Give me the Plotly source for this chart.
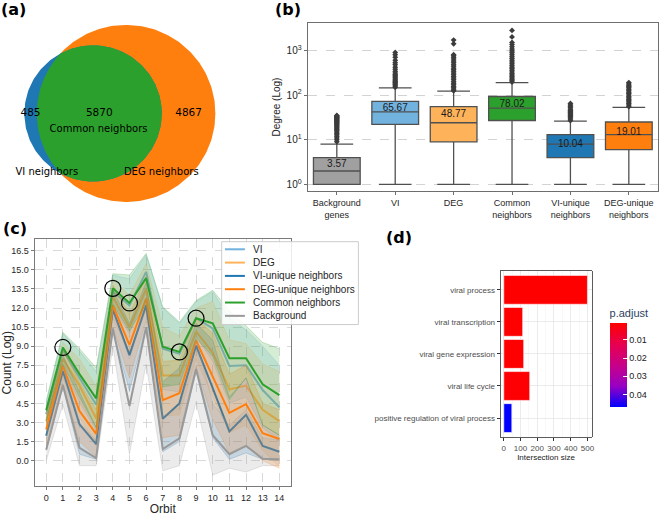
import numpy as np
import plotly.graph_objects as go

W, H = 668, 516

# ---------------- data ----------------
# (a) Venn counts
vi_only = 485
common_n = 5870
deg_only = 4867
venn_set_labels = ["VI neighbors", "DEG neighbors"]
venn_center_label = "Common neighbors"

# (b) degree box plot (summary stats)
box_labels = ["Background<br>genes", "VI", "DEG", "Common<br>neighbors",
              "VI-unique<br>neighbors", "DEG-unique<br>neighbors"]
box_q1 = [1, 22, 9, 27, 4, 6]
box_med = [2, 42, 24, 51, 8, 13]
box_q3 = [4, 72, 55, 93, 13, 25]
box_lo = [1, 1, 1, 1, 1, 1]
box_hi = [8, 145, 122, 190, 26, 53]
box_mean = [3.57, 65.67, 48.77, 78.02, 10.04, 19.01]
out_background = [9, 10, 11, 12, 13, 14, 15, 16, 17, 18, 19, 20, 21, 22, 23, 24, 25,
                  26, 27, 28, 29, 30, 31, 32, 33, 34, 35]
out_vi = [150, 160, 170, 180, 190, 200, 210, 225, 240, 255, 270, 290, 310, 340, 380,
          420, 480, 530, 600, 700, 800, 900]
out_deg = [125, 135, 145, 155, 170, 185, 200, 220, 240, 260, 285, 310, 340, 370, 400,
           440, 480, 530, 580, 640, 700, 760, 800, 1400, 1700]
out_common = [195, 210, 225, 240, 260, 280, 300, 330, 360, 390, 420, 460, 500, 550, 600,
              660, 720, 800, 880, 970, 1070, 1200, 1350, 1500, 2000, 2800]
out_vi_unique = [27, 29, 31, 33, 35, 37, 39, 41, 43, 45, 48, 52, 56, 60, 65]
out_deg_unique = [55, 60, 65, 70, 75, 80, 86, 92, 100, 108, 116, 125, 135, 145, 155,
                  165, 178, 190]
box_outliers = [out_background, out_vi, out_deg, out_common, out_vi_unique, out_deg_unique]

# (c) orbit counts
orbits = list(range(15))
vi_mean = [3.65, 8.7, 6.5, 4.4, 13.3, 12.2, 14.85, 8.8, 8.4, 11.2, 10.4, 7.45, 7.5, 5.55, 4.2]
vi_lo = [2.8, 7.4, 4.6, 2.4, 12.0, 10.0, 13.2, 5.6, 5.4, 9.8, 7.8, 4.5, 5.0, 2.6, 1.5]
vi_hi = [4.5, 10.0, 8.6, 7.0, 14.6, 14.3, 16.2, 12.0, 10.8, 12.5, 13.3, 11.2, 10.3, 9.0, 7.5]
deg_mean = [3.1, 8.0, 5.9, 3.3, 12.9, 10.5, 13.5, 6.7, 6.7, 10.15, 8.5, 5.6, 5.9, 4.0, 3.1]
deg_lo = [2.0, 6.5, 3.4, 1.2, 11.2, 8.5, 11.8, 3.5, 3.6, 8.0, 5.0, 2.2, 2.8, 0.8, -0.5]
deg_hi = [4.1, 9.3, 8.0, 5.8, 14.3, 13.0, 15.5, 10.5, 9.8, 12.0, 12.5, 9.5, 9.2, 7.6, 7.0]
viu_mean = [1.95, 7.05, 2.85, 1.3, 11.9, 8.3, 12.2, 3.3, 4.5, 9.05, 5.7, 2.3, 3.6, 1.15, 0.7]
viu_lo = [0.8, 5.8, 0.5, 0.1, 10.2, 5.5, 10.5, 0.7, 1.5, 7.0, 1.8, 0.1, 0.6, 0.1, 0.0]
viu_hi = [3.2, 8.3, 5.4, 2.6, 13.4, 10.8, 14.0, 6.2, 7.3, 10.8, 9.5, 5.0, 6.5, 2.8, 2.0]
degu_mean = [2.45, 7.45, 3.9, 2.1, 12.2, 9.1, 12.75, 4.75, 5.3, 9.45, 6.6, 3.75, 4.45, 2.15, 1.7]
degu_lo = [1.2, 6.0, 1.5, 0.3, 10.5, 6.5, 11.0, 1.8, 2.0, 7.4, 3.2, 0.6, 1.2, 0.0, -0.6]
degu_hi = [3.6, 8.8, 6.2, 4.0, 13.8, 11.5, 14.5, 7.8, 7.9, 11.2, 10.0, 6.8, 7.5, 4.5, 4.0]
com_mean = [3.95, 8.9, 6.8, 4.9, 13.55, 12.4, 14.35, 8.95, 8.55, 11.2, 10.8, 8.05, 8.05, 6.0, 5.15]
com_lo = [3.0, 7.6, 5.0, 2.6, 12.3, 10.2, 12.3, 5.8, 6.0, 9.6, 8.2, 4.8, 6.5, 2.8, 2.0]
com_hi = [4.7, 10.1, 8.8, 7.3, 14.7, 14.6, 16.3, 12.1, 10.9, 12.6, 13.4, 11.8, 10.6, 9.3, 8.8]
bg_mean = [0.85, 5.95, 1.0, 0.2, 10.4, 4.3, 10.5, 0.9, 1.75, 7.2, 2.0, 0.5, 1.15, 0.15, 0.1]
bg_lo = [0.0, 4.4, -0.4, -0.4, 9.0, 0.5, 7.6, -0.8, -0.4, 4.6, -1.15, -0.6, -0.9, -0.4, -0.4]
bg_hi = [1.8, 7.5, 3.0, 1.6, 12.0, 8.0, 12.8, 3.5, 4.2, 9.6, 4.5, 2.8, 4.0, 1.8, 1.6]
highlight_orbits = [1, 4, 5, 8, 9]
y_ticks_c = [0.0, 1.5, 3.0, 4.5, 6.0, 7.5, 9.0, 10.5, 12.0, 13.5, 15.0, 16.5]

# (d) GO enrichment
go_terms = ["viral process", "viral transcription", "viral gene expression",
            "viral life cycle", "positive regulation of viral process"]
go_counts = [500, 113, 119, 155, 48]
go_padjust = [0.0007, 0.0008, 0.0009, 0.0012, 0.047]
cbar_ticks = [0.01, 0.02, 0.03, 0.04]

# ---------------- styles ----------------
C_BLUE = "#1f77b4"
C_ORANGE = "#ff7f0e"
C_GREEN = "#2ca02c"
C_LBLUE = "#72b2de"
C_LORANGE = "#feb35a"
C_GREY = "#a0a0a0"
SANS = "Liberation Sans, Arial, sans-serif"
DEJ = "DejaVu Sans, sans-serif"


def rgba(hexc, a):
    h = hexc.lstrip("#")
    return "rgba(%d,%d,%d,%.3f)" % (int(h[0:2], 16), int(h[2:4], 16), int(h[4:6], 16), a)


fig = go.Figure()

# ---------------- (a) Venn ----------------
k = 0.866  # px per sqrt(count)
r1 = k * np.sqrt(vi_only + common_n)
r2 = k * np.sqrt(deg_only + common_n)
target = np.pi * k * k * common_n


def lens(d):
    a1 = np.arccos((d * d + r1 * r1 - r2 * r2) / (2 * d * r1))
    a2 = np.arccos((d * d + r2 * r2 - r1 * r1) / (2 * d * r2))
    tri = 0.5 * np.sqrt((-d + r1 + r2) * (d + r1 - r2) * (d - r1 + r2) * (d + r1 + r2))
    return r1 * r1 * a1 + r2 * r2 * a2 - tri


lo_d, hi_d = abs(r2 - r1) + 1e-6, r1 + r2 - 1e-6
for _ in range(80):
    mid = 0.5 * (lo_d + hi_d)
    if lens(mid) > target:
        lo_d = mid
    else:
        hi_d = mid
d = 0.5 * (lo_d + hi_d)
c1 = (93.5, 115.0)
c2 = (93.5 + d, 115.0)


def circle_pts(c, r, t0=0, t1=2 * np.pi, n=240):
    t = np.linspace(t0, t1, n)
    return c[0] + r * np.cos(t), c[1] + r * np.sin(t)


xo, yo = circle_pts(c2, r2)
fig.add_trace(go.Scatter(x=xo, y=yo, fill="toself", fillcolor=C_ORANGE, line=dict(width=0),
                         mode="lines", hoverinfo="skip", showlegend=False, xaxis="x", yaxis="y"))
xb, yb = circle_pts(c1, r1)
fig.add_trace(go.Scatter(x=xb, y=yb, fill="toself", fillcolor=C_BLUE, line=dict(width=0),
                         mode="lines", hoverinfo="skip", showlegend=False, xaxis="x", yaxis="y"))
a = (d * d + r1 * r1 - r2 * r2) / (2 * d)
h = np.sqrt(r1 * r1 - a * a)
al1 = np.arctan2(h, a)
al2 = np.arctan2(h, a - d)
x1, y1 = circle_pts(c1, r1, -al1, al1)
x2, y2 = circle_pts(c2, r2, al2, 2 * np.pi - al2)
fig.add_trace(go.Scatter(x=np.concatenate([x1, x2]), y=np.concatenate([y1, y2]), fill="toself",
                         fillcolor=C_GREEN, line=dict(width=0), mode="lines", hoverinfo="skip",
                         showlegend=False, xaxis="x", yaxis="y"))
left_vi, left_deg = c1[0] - r1, c2[0] - r2
right_vi, right_deg = c1[0] + r1, c2[0] + r2
fig.add_trace(go.Scatter(
    x=[(left_vi + left_deg) / 2, (left_deg + right_vi) / 2, (right_vi + right_deg) / 2],
    y=[c1[1]] * 3, text=[str(vi_only), str(common_n), str(deg_only)], mode="text",
    textfont=dict(family=DEJ, size=10.5, color="black"), hoverinfo="skip", showlegend=False,
    xaxis="x", yaxis="y"))
fig.add_trace(go.Scatter(
    x=[99, 47, 162], y=[131, 175, 175],
    text=[venn_center_label, venn_set_labels[0], venn_set_labels[1]], mode="text",
    textfont=dict(family=DEJ, size=10, color="black"), hoverinfo="skip", showlegend=False,
    xaxis="x", yaxis="y"))

# ---------------- (b) box plot ----------------
box_colors = [C_GREY, C_LBLUE, C_LORANGE, C_GREEN, C_BLUE, C_ORANGE]
for i in range(len(box_labels)):
    fig.add_trace(go.Box(x=[i], q1=[box_q1[i]], median=[box_med[i]], q3=[box_q3[i]],
                         lowerfence=[box_lo[i]], upperfence=[box_hi[i]], width=0.8,
                         whiskerwidth=0.7, fillcolor=box_colors[i],
                         line=dict(color="#505050", width=1.3), boxpoints=False,
                         hoverinfo="skip", showlegend=False, xaxis="x2", yaxis="y2"))
    fig.add_trace(go.Scatter(x=[i] * len(box_outliers[i]), y=box_outliers[i], mode="markers",
                             marker=dict(symbol="diamond", size=4.5, color="#3c3c3c"),
                             hoverinfo="skip", showlegend=False, xaxis="x2", yaxis="y2"))
fig.add_trace(go.Scatter(x=list(range(len(box_mean))), y=box_mean, mode="text",
                         text=["%.2f" % m for m in box_mean], textposition="bottom center",
                         textfont=dict(family=SANS, size=10, color="#1a1a1a"),
                         hoverinfo="skip", showlegend=False, xaxis="x2", yaxis="y2"))

# ---------------- (c) orbit lines ----------------
series = [
    ("VI", C_LBLUE, vi_mean, vi_lo, vi_hi),
    ("DEG", C_LORANGE, deg_mean, deg_lo, deg_hi),
    ("VI-unique neighbors", C_BLUE, viu_mean, viu_lo, viu_hi),
    ("DEG-unique neighbors", C_ORANGE, degu_mean, degu_lo, degu_hi),
    ("Common neighbors", C_GREEN, com_mean, com_lo, com_hi),
    ("Background", "#999999", bg_mean, bg_lo, bg_hi),
]
for name, col, m, lo, hi in series:
    fig.add_trace(go.Scatter(x=orbits, y=lo, mode="lines", line=dict(color=rgba(col, 0.3), width=0.8),
                             hoverinfo="skip", showlegend=False, xaxis="x3", yaxis="y3"))
    fig.add_trace(go.Scatter(x=orbits, y=hi, mode="lines", fill="tonexty", fillcolor=rgba(col, 0.2),
                             line=dict(color=rgba(col, 0.3), width=0.8),
                             hoverinfo="skip", showlegend=False, xaxis="x3", yaxis="y3"))
    fig.add_trace(go.Scatter(x=orbits, y=m, mode="lines", name=name, line=dict(color=col, width=2),
                             showlegend=False, xaxis="x3", yaxis="y3"))
fig.add_trace(go.Scatter(x=highlight_orbits, y=[com_mean[i] for i in highlight_orbits], mode="markers",
                         marker=dict(symbol="circle-open", size=16, color="black", line=dict(width=1.2)),
                         hoverinfo="skip", showlegend=False, xaxis="x3", yaxis="y3"))

# ---------------- (d) GO bars ----------------
fig.add_trace(go.Bar(
    x=go_counts, y=go_terms, orientation="h", width=0.9, xaxis="x4", yaxis="y4",
    marker=dict(color=[-p for p in go_padjust],
                colorscale=[[0, "#0000FF"], [0.25, "#9900C2"], [0.5, "#C80088"],
                            [0.75, "#E7004F"], [1, "#FF0000"]],
                cmin=-max(go_padjust), cmax=-min(go_padjust),
                line=dict(color="white", width=0.6),
                colorbar=dict(x=612.3 / W, xanchor="left", xpad=0, y=1 - 361.5 / H, yanchor="middle",
                              ypad=0, len=101, lenmode="pixels", thickness=17, outlinewidth=0,
                              title=dict(text="p.adjust", side="top", font=dict(family=SANS, size=11)),
                              tickvals=[-t for t in cbar_ticks], ticktext=["%.2f" % t for t in cbar_ticks],
                              ticks="inside", tickcolor="white", ticklen=4,
                              tickfont=dict(family=SANS, size=9, color="#1a1a1a"))),
    hoverinfo="skip", showlegend=False))

# ---------------- layout ----------------
def dom_x(a, b):
    return [a / W, b / W]


def dom_y(top, bottom):
    return [1 - bottom / H, 1 - top / H]


axis_font = dict(family=SANS, size=9, color="#262626")

layout = dict(
    width=W, height=H, margin=dict(l=0, r=0, t=0, b=0),
    paper_bgcolor="white", plot_bgcolor="white", showlegend=False,
    xaxis=dict(domain=dom_x(0, 250), range=[0, 250], visible=False, fixedrange=True),
    yaxis=dict(domain=dom_y(0, 210), range=[210, 0], visible=False, fixedrange=True),
    xaxis2=dict(domain=dom_x(309, 661), anchor="y2", range=[-0.5, 5.5], tickmode="array",
                tickvals=list(range(len(box_labels))), ticktext=box_labels, showgrid=False,
                zeroline=False, showline=True, mirror=True, linecolor="#6e6e6e", linewidth=1,
                ticks="outside", ticklen=3, tickcolor="#6e6e6e", tickfont=axis_font),
    yaxis2=dict(domain=dom_y(23, 194), anchor="x2", type="log", range=[-0.155, 3.62],
                tickmode="array", tickvals=[1, 10, 100, 1000],
                ticktext=["10<sup>0</sup>", "10<sup>1</sup>", "10<sup>2</sup>", "10<sup>3</sup>"],
                showgrid=True, gridcolor="#c8c8c8", griddash="dash", gridwidth=0.8, zeroline=False,
                showline=True, mirror=True, linecolor="#6e6e6e", linewidth=1,
                ticks="outside", ticklen=3, tickcolor="#6e6e6e",
                tickfont=dict(family=SANS, size=10, color="#262626"),
                title=dict(text="Degree (Log)", font=dict(family=SANS, size=10, color="#262626"),
                           standoff=4)),
    xaxis3=dict(domain=dom_x(34.7, 292.3), anchor="y3", range=[-0.7, 14.7], tickmode="array",
                tickvals=orbits, showgrid=True, gridcolor="#cfcfcf", griddash="dash", gridwidth=0.8,
                zeroline=False, showline=True, mirror=True, linecolor="#7a7a7a", linewidth=1,
                ticks="outside", ticklen=3, tickcolor="#7a7a7a",
                tickfont=dict(family=SANS, size=9, color="#262626"),
                title=dict(text="Orbit", font=dict(family=SANS, size=12, color="#262626"), standoff=5)),
    yaxis3=dict(domain=dom_y(242.7, 492.7), anchor="x3", range=[-2.0, 17.4], tickmode="array",
                tickvals=y_ticks_c, ticktext=["%.1f" % t for t in y_ticks_c],
                showgrid=True, gridcolor="#cfcfcf", griddash="dash", gridwidth=0.8,
                zeroline=False, showline=True, mirror=True, linecolor="#7a7a7a", linewidth=1,
                ticks="outside", ticklen=3, tickcolor="#7a7a7a",
                tickfont=dict(family=SANS, size=9, color="#262626"),
                title=dict(text="Count (Log)", font=dict(family=SANS, size=12, color="#262626"), standoff=3)),
    xaxis4=dict(domain=dom_x(502.7, 594.3), anchor="y4", range=[-20, 525], tickmode="array",
                tickvals=[0, 100, 200, 300, 400, 500], showgrid=True, gridcolor="#e6e6e6", gridwidth=0.8,
                minor=dict(tickvals=[50, 150, 250, 350, 450], showgrid=True, gridcolor="#f3f3f3", gridwidth=0.6),
                zeroline=False, showline=True, mirror=True, linecolor="#333333", linewidth=0.8,
                ticks="outside", ticklen=3, tickcolor="#333333",
                tickfont=dict(family=SANS, size=8, color="#4d4d4d"),
                title=dict(text="Intersection size", font=dict(family=SANS, size=8, color="#1a1a1a"), standoff=2)),
    yaxis4=dict(domain=dom_y(274.3, 443.3), anchor="x4", type="category", categoryorder="array",
                categoryarray=go_terms, range=[len(go_terms) - 0.4, -0.6], showgrid=True,
                gridcolor="#e6e6e6", gridwidth=0.8, zeroline=False, showline=True, mirror=True,
                linecolor="#333333", linewidth=0.8, ticks="outside", ticklen=3, tickcolor="#333333",
                tickfont=dict(family=SANS, size=8, color="#4d4d4d")),
)
fig.update_layout(**layout)

# panel labels
for lab, x, y in [("(a)", 14, 10), ("(b)", 289, 10), ("(c)", 15, 232), ("(d)", 401, 241)]:
    fig.add_annotation(text="<b>%s</b>" % lab, x=x / W, y=1 - y / H, xref="paper", yref="paper",
                       showarrow=False, xanchor="center", yanchor="middle",
                       font=dict(family=DEJ, size=16, color="black"))

# manual legend for panel (c)
lx0, lx1, ly0, ly1 = 222.7, 360, 245, 329
fig.add_shape(type="rect", xref="paper", yref="paper", x0=lx0 / W, x1=lx1 / W, y0=1 - ly1 / H, y1=1 - ly0 / H,
              fillcolor="rgba(255,255,255,0.85)", line=dict(color="#cccccc", width=1), layer="above")
for j, (name, col, *_rest) in enumerate(series):
    yy = 252.7 + 13.5 * j
    fig.add_shape(type="line", xref="paper", yref="paper", x0=226 / W, x1=246 / W,
                  y0=1 - yy / H, y1=1 - yy / H, line=dict(color=col, width=2), layer="above")
    fig.add_annotation(text=name, x=252 / W, y=1 - yy / H, xref="paper", yref="paper", showarrow=False,
                       xanchor="left", yanchor="middle", font=dict(family=SANS, size=10, color="#262626"))

fig.write_html("out.html", config={"displayModeBar": False, "staticPlot": True},
               post_script="document.body.style.margin='0px';document.body.style.overflow='hidden';")
